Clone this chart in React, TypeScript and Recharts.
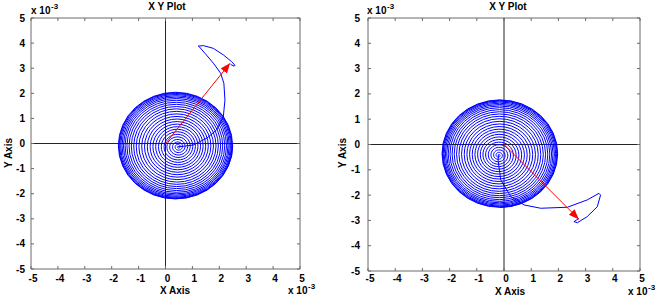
import React from 'react';
import { ScatterChart, Scatter, XAxis, YAxis, ReferenceLine } from 'recharts';

// all values in units of 10^-3
const TICKS = [-5, -4, -3, -2, -1, 0, 1, 2, 3, 4, 5];

// ring radius of each spiral turn (inner -> outer)
const L_RING_RADII = [0.07, 0.16, 0.26, 0.36, 0.46, 0.56, 0.66, 0.76, 0.86, 0.96, 1.06, 1.16, 1.26, 1.36, 1.46, 1.55, 1.64, 1.72, 1.8, 1.87, 1.93, 1.98, 2.03, 2.07, 2.1, 2.12, 2.13];
const L_CENTER_INNER = [0.48, -0.13];
const L_CENTER_OUTER = [0.37, -0.08];
const L_TAIL_X = [0.48, 0.75, 1.03, 1.53, 1.9, 2.15, 2.21, 2.17, 2.05, 1.78, 1.47, 1.25, 1.22, 1.41, 1.78, 2.15, 2.46, 2.58, 2.55, 2.42];
const L_TAIL_Y = [-0.13, -0.1, -0.06, 0.21, 0.54, 1.07, 1.73, 2.4, 2.8, 3.2, 3.59, 3.86, 3.88, 3.9, 3.79, 3.53, 3.26, 3.12, 3.08, 3.15];
const L_ARROW_X = [0, 2.4];
const L_ARROW_Y = [0, 3.2];

const R_RING_RADII = [0.07, 0.16, 0.26, 0.36, 0.46, 0.56, 0.66, 0.76, 0.86, 0.96, 1.06, 1.16, 1.26, 1.36, 1.46, 1.55, 1.64, 1.72, 1.8, 1.87, 1.93, 1.98, 2.03, 2.07, 2.1, 2.12, 2.13];
const R_CENTER_INNER = [-0.2, -0.43];
const R_CENTER_OUTER = [-0.155, -0.36];
const R_TAIL_X = [-0.2, -0.22, -0.12, 0.25, 0.74, 1.35, 2.33, 3.06, 3.49, 3.55, 3.43, 3.06, 2.7, 2.57, 2.76];
const R_TAIL_Y = [-0.43, -0.61, -1.4, -2.06, -2.39, -2.52, -2.48, -2.19, -1.93, -2.0, -2.46, -2.85, -3.09, -3.05, -2.92];
const R_ARROW_X = [0, 2.75];
const R_ARROW_Y = [0, -2.95];

const STEPS = 32;
const FONT = '"Liberation Sans", Arial, sans-serif';
const FRAME = '#6a6a6a';
const ZERO = '#252525';

type P = { x: number; y: number };

function buildSpiral(radii: number[], cIn: number[], cOut: number[], start: number, dir: number): P[] {
  const pts: P[] = [];
  const rs = [0, ...radii];
  const n = radii.length;
  for (let i = 0; i < n; i++) {
    for (let k = 0; k < STEPS; k++) {
      const t = k / STEPS;
      const r = rs[i] + (rs[i + 1] - rs[i]) * t;
      const f = (i + t) / n;
      const cx = cIn[0] + (cOut[0] - cIn[0]) * f;
      const cy = cIn[1] + (cOut[1] - cIn[1]) * f;
      const a = start + dir * 2 * Math.PI * (i + t);
      pts.push({ x: cx + r * Math.cos(a), y: cy + r * Math.sin(a) });
    }
  }
  const a = start + dir * 2 * Math.PI * n;
  pts.push({ x: cOut[0] + rs[n] * Math.cos(a), y: cOut[1] + rs[n] * Math.sin(a) });
  return pts;
}

const zip = (xs: number[], ys: number[]): P[] => xs.map((x, i) => ({ x, y: ys[i] }));

const NoShape = () => <g />;

const XTick = (props: any) => {
  const { x, y, payload, plotH, labelDy } = props;
  return (
    <g>
      <line x1={x} y1={y} x2={x} y2={y - 3} stroke={FRAME} />
      <line x1={x} y1={y - plotH} x2={x} y2={y - plotH + 3} stroke={FRAME} />
      <text x={x + 2} y={y + labelDy} textAnchor="middle" fontFamily={FONT} fontWeight="bold" fontSize={10} fill="#000">
        {payload.value}
      </text>
    </g>
  );
};

const YTick = (props: any) => {
  const { x, y, payload, plotW, gap } = props;
  return (
    <g>
      <line x1={x} y1={y} x2={x + 3} y2={y} stroke={FRAME} />
      <line x1={x + plotW} y1={y} x2={x + plotW - 3} y2={y} stroke={FRAME} />
      <text x={x - gap} y={y + 3.5} textAnchor="end" fontFamily={FONT} fontWeight="bold" fontSize={10} fill="#000">
        {payload.value}
      </text>
    </g>
  );
};

type PanelProps = {
  left: number;
  width: number;
  margin: { top: number; right: number; bottom: number; left: number };
  plotW: number;
  plotH: number;
  labelDy: number;
  gap: number;
  spiral: P[];
  tail: P[];
  arrow: P[];
  markerId: string;
};

const Panel = (p: PanelProps) => (
  <div style={{ position: 'absolute', left: p.left, top: 0 }}>
    <ScatterChart width={p.width} height={308} margin={p.margin}>
      <XAxis
        type="number"
        dataKey="x"
        domain={[-5, 5]}
        ticks={TICKS}
        interval={0}
        allowDataOverflow
        height={30}
        tickSize={0}
        tickMargin={0}
        axisLine={{ stroke: FRAME }}
        tick={<XTick plotH={p.plotH} labelDy={p.labelDy} />}
      />
      <YAxis
        type="number"
        dataKey="y"
        domain={[-5, 5]}
        ticks={TICKS}
        interval={0}
        allowDataOverflow
        width={30}
        tickSize={0}
        tickMargin={0}
        axisLine={{ stroke: FRAME }}
        tick={<YTick plotW={p.plotW} gap={p.gap} />}
      />
      <ReferenceLine y={5} stroke={FRAME} />
      <ReferenceLine x={5} stroke={FRAME} />
      <Scatter data={p.spiral} line={{ stroke: '#0000ff', strokeWidth: 1 }} fill="#0000ff" shape={NoShape} isAnimationActive={false} />
      <Scatter data={p.tail} line={{ stroke: '#0000ff', strokeWidth: 1 }} fill="#0000ff" shape={NoShape} isAnimationActive={false} />
      <ReferenceLine x={0} stroke={ZERO} />
      <ReferenceLine y={0} stroke={ZERO} />
      <Scatter
        data={p.arrow}
        line={{ stroke: '#ff0000', strokeWidth: 1, markerEnd: `url(#${p.markerId})` }}
        fill="#ff0000"
        shape={NoShape}
        isAnimationActive={false}
      />
    </ScatterChart>
  </div>
);

const T = (props: any) => (
  <text fontFamily={FONT} fontWeight="bold" fill="#000" {...props} />
);

const Exp = ({ x, y }: { x: number; y: number }) => (
  <>
    <T x={x} y={y} fontSize={10}>x 10</T>
    <T x={x + 20} y={y - 5} fontSize={8}>-3</T>
  </>
);

export default function App() {
  const lSpiral = buildSpiral(L_RING_RADII, L_CENTER_INNER, L_CENTER_OUTER, 0, 1);
  const rSpiral = buildSpiral(R_RING_RADII, R_CENTER_INNER, R_CENTER_OUTER, -Math.PI / 2, -1);
  return (
    <div style={{ position: 'absolute', left: 0, top: 0, width: 669, height: 308, background: '#fff', overflow: 'hidden' }}>
      <Panel
        left={0}
        width={334}
        margin={{ top: 18, right: 34, bottom: 9, left: 1 }}
        plotW={269}
        plotH={251}
        labelDy={12.5}
        gap={6}
        spiral={lSpiral}
        tail={zip(L_TAIL_X, L_TAIL_Y)}
        arrow={zip(L_ARROW_X, L_ARROW_Y)}
        markerId="arrowHeadL"
      />
      <Panel
        left={334}
        width={335}
        margin={{ top: 18, right: 29, bottom: 7, left: 4 }}
        plotW={272}
        plotH={253}
        labelDy={11}
        gap={8}
        spiral={rSpiral}
        tail={zip(R_TAIL_X, R_TAIL_Y)}
        arrow={zip(R_ARROW_X, R_ARROW_Y)}
        markerId="arrowHeadR"
      />
      <svg width={669} height={308} style={{ position: 'absolute', left: 0, top: 0, pointerEvents: 'none' }}>
        <defs>
          <marker id="arrowHeadL" viewBox="0 0 10 10" refX="10" refY="5" markerWidth="10" markerHeight="8" markerUnits="userSpaceOnUse" orient="auto" preserveAspectRatio="none">
            <path d="M0,0 L10,5 L0,10 z" fill="#ff0000" />
          </marker>
          <marker id="arrowHeadR" viewBox="0 0 10 10" refX="10" refY="5" markerWidth="10" markerHeight="8" markerUnits="userSpaceOnUse" orient="auto" preserveAspectRatio="none">
            <path d="M0,0 L10,5 L0,10 z" fill="#ff0000" />
          </marker>
        </defs>
        <T x={167} y={10} fontSize={10} textAnchor="middle">X Y Plot</T>
        <T x={508} y={10} fontSize={10} textAnchor="middle">X Y Plot</T>
        <Exp x={31} y={13.5} />
        <Exp x={367} y={13.5} />
        <Exp x={288} y={294} />
        <Exp x={628} y={295} />
        <T x={175} y={294} fontSize={10} textAnchor="middle">X Axis</T>
        <T x={510} y={295} fontSize={10} textAnchor="middle">X Axis</T>
        <T x={0} y={0} fontSize={10} textAnchor="middle" transform="translate(12,153) rotate(-90)">Y Axis</T>
        <T x={0} y={0} fontSize={10} textAnchor="middle" transform="translate(346,153) rotate(-90)">Y Axis</T>
      </svg>
    </div>
  );
}
